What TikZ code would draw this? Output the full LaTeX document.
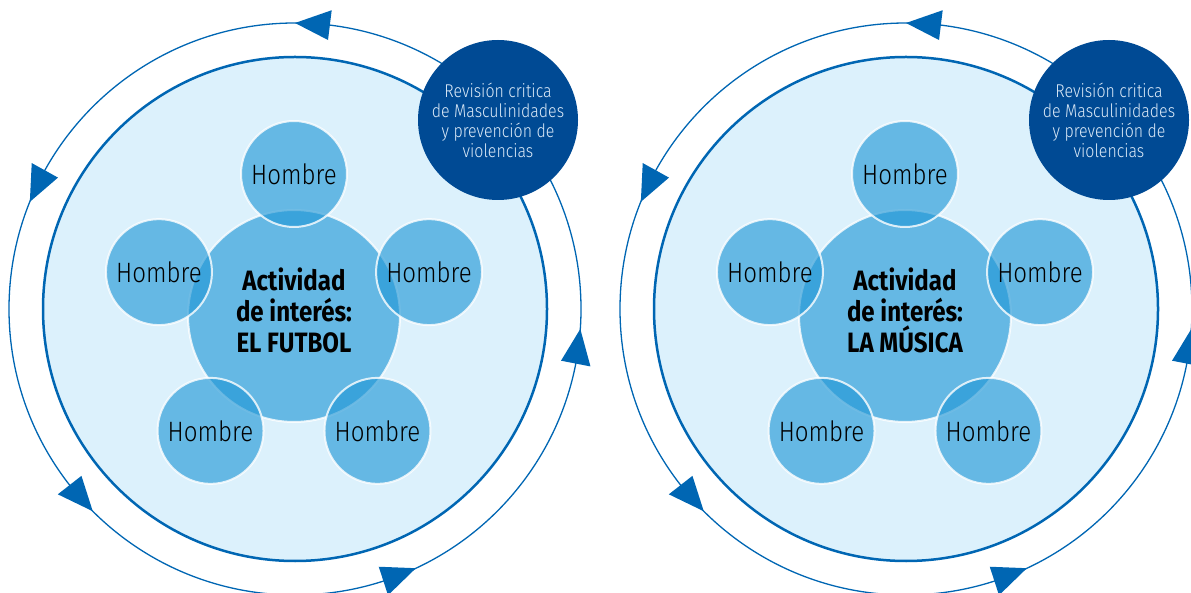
\documentclass[tikz,border=0pt]{standalone}
\usepackage{fontspec}
\setmainfont{Fira Sans}[FakeStretch=0.86]
\newfontfamily\lightfont{Fira Sans Light}[FakeStretch=0.86]
\usetikzlibrary{calc}
\definecolor{ringblue}{RGB}{0,102,179}
\definecolor{paleblue}{RGB}{220,241,252}
\definecolor{midblue}{RGB}{33,151,214}
\definecolor{navy}{RGB}{0,74,148}
\definecolor{paletext}{RGB}{220,234,248}
\tikzset{
	field/.style    = {circle, draw=ringblue, line width=2.5pt, fill=paleblue,
		minimum size=504pt, inner sep=0pt},
	ring/.style     = {draw=ringblue, line width=1.3pt},
	tip/.style      = {fill=ringblue},
	activity/.style = {circle, fill=midblue, fill opacity=0.63, draw=white,
		draw opacity=0.8, line width=2pt, text opacity=1, minimum size=212pt,
		inner sep=0pt, align=center, font=\bfseries\fontsize{28}{31}\selectfont},
	man/.style      = {activity, minimum size=106pt,
		font=\lightfont\fontsize{28}{30}\selectfont},
	review/.style   = {circle, fill=navy, minimum size=160pt, inner sep=0pt,
		align=center, text=paletext, font=\lightfont\fontsize{18.5}{20}\selectfont},
}

\begin{document}
\begin{tikzpicture}[x=1pt, y=1pt]
	\useasboundingbox (0,0) rectangle (1191,592);
	\clip (0,0) rectangle (1191,592);
	\foreach \dx/\topic in {0/EL FUTBOL, 611/LA MÚSICA}{
		\begin{scope}[xshift=\dx pt]
			% pale field and the turning ring
			\node[field] (field\dx) at (295,283) {};
			\draw[ring] (field\dx.center) circle[radius=286];
			\foreach \a in {90,158,225,295,356}
				\fill[tip] ($(field\dx.center)+(\a:286)$) -- ($(field\dx.center)+(\a-7:271)$)
					-- ($(field\dx.center)+(\a-7:301)$) -- cycle;
			% activity with the five men round it
			\node[activity] (act\dx) at (294,276) {Actividad\\de interés:\\\topic\\[-20pt]};
			\foreach \k [count=\n] in {90,162,234,306,18}
				\node[man] (man\dx-\n) at ($(act\dx.center)+(\k:142)$) {Hombre};
			\node[review] (rev\dx) at (498,472)
				{Revisión critica\\de Masculinidades\\y prevención de\\violencias};
		\end{scope}
	}
\end{tikzpicture}
\end{document}
